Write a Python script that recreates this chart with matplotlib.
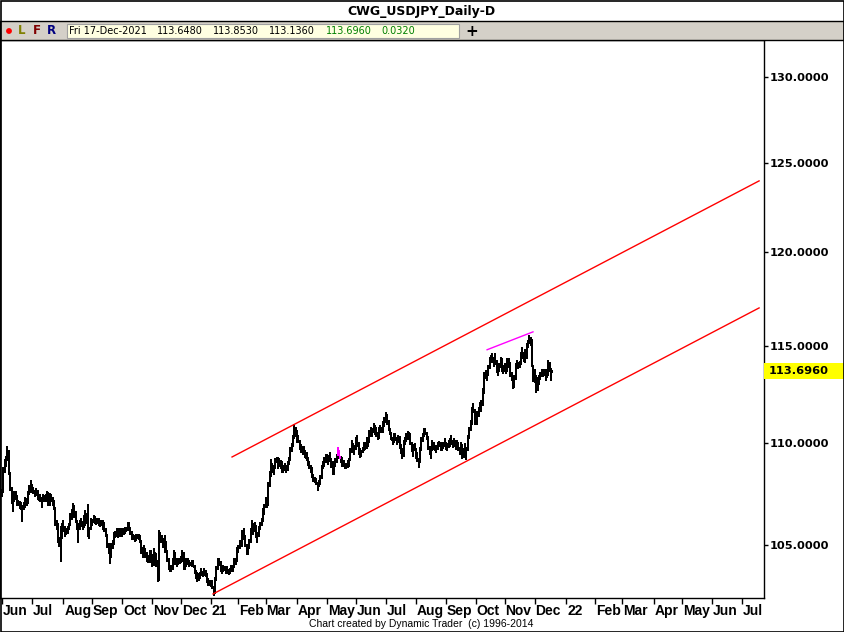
import numpy as np
import pandas as pd
import matplotlib
matplotlib.use('Agg')
import matplotlib.pyplot as plt
import matplotlib.transforms as mtransforms
from matplotlib.patches import Rectangle, Circle
from matplotlib.ticker import NullLocator

symbol = 'CWG_USDJPY_Daily-D'
first_day = '2020-06-01'
last_axis_day = '2022-07-29'
holidays = ['2020-12-25', '2021-01-01']

# daily bars, Jun 2020 - 17 Dec 2021 (open = previous close)
highs = [
    107.7, 108.8, 109.2, 109.35, 109.85, 109.5, 108.55, 107.8, 107.4, 107.6,
    107.6, 107.4, 107.2, 107.15, 107.1, 106.9, 107.1, 107.3, 107.25, 107.6,
    107.9, 108.15, 107.95, 107.8, 107.65, 107.75, 107.65, 107.45, 107.45, 107.3,
    107.45, 107.4, 107.45, 107.6, 107.5, 107.5, 107.45, 107.3, 107.2, 106.85,
    106.2, 106.05, 105.4, 105.9, 106.05, 106.2, 105.9, 105.8, 105.9, 106.05,
    106.55, 106.75, 107.05, 106.9, 106.6, 106.2, 106.05, 106.2, 106.3, 106.15,
    106.45,
    106.7, 106.5, 107.0, 105.85, 106.3, 106.25, 106.45, 106.4, 106.3, 106.3,
    106.3, 106.2, 106.2, 106.2, 106.1, 105.8, 105.5, 105.1, 104.9, 105.1,
    105.25, 105.6, 105.65, 105.8, 105.7, 105.8, 105.8, 105.8, 105.8, 105.85,
    105.85, 106.1, 106.1, 105.8, 105.6, 105.55, 105.5, 105.55, 105.55, 105.55,
    105.5, 105.1, 104.9, 105.0, 104.85, 104.65, 104.5, 104.75, 104.75, 104.5,
    104.85, 104.65, 104.6, 104.3, 105.7, 105.6, 105.5, 105.35,
    105.5, 105.2, 104.75, 104.4, 104.05, 104.05, 104.4, 104.75, 104.65, 104.4,
    104.4, 104.4, 104.45, 104.75, 104.6, 104.3, 104.4, 104.4, 104.3, 104.2,
    104.3, 104.3, 103.95, 103.8, 103.7, 103.65, 103.7, 103.9, 103.7, 103.9,
    103.8, 103.55, 103.45, 103.35, 103.25, 103.35, 103.05, 103.5, 104.0, 104.4,
    104.4, 104.05, 103.95, 104.05, 104.0, 103.9, 104.0, 103.8, 103.9, 104.05,
    104.05, 104.4, 104.4, 104.9, 105.0, 105.25,
    105.2, 105.7, 105.8, 105.5, 104.9, 105.0, 105.3, 105.8, 106.2, 106.0,
    106.1, 105.8, 105.6, 105.9, 106.1, 106.3, 106.8, 107.0, 107.3, 107.2,
    108.05, 108.6, 109.2, 109.0, 108.9, 109.25, 109.3, 109.3, 109.25, 109.15,
    109.1, 108.9, 109.0, 108.9, 109.1, 109.3, 109.8, 110.0, 110.4, 110.95,
    110.8, 110.6, 110.4, 110.1, 109.95, 109.85, 109.85, 109.55, 109.55, 109.3,
    109.1, 108.9, 108.8, 108.4, 108.3, 108.25, 108.05, 108.15, 108.4, 108.9,
    109.1,
    109.3, 109.45, 109.45, 109.4, 109.55, 109.25, 109.1, 109.0, 109.25, 109.45,
    109.8, 109.45, 109.3, 109.3, 109.15, 109.0,
    109.0, 109.15, 109.25, 109.75, 110.15, 110.0, 109.9, 110.3, 110.4, 110.0,
    109.75, 109.65, 109.8, 110.05, 110.05, 110.3, 110.25, 110.65, 110.8, 110.75,
    111.0, 110.9, 110.8, 110.55, 110.8, 110.9, 110.8, 111.1, 111.3, 111.55,
    111.45, 111.15, 110.75, 110.55, 110.3, 110.5, 110.5, 110.3, 110.4, 110.25,
    109.95, 109.75,
    110.15, 110.3, 110.5, 110.6, 110.55, 110.5, 110.05, 109.95, 110.0, 109.75,
    109.55, 109.25, 109.8, 110.3, 110.5, 110.75, 110.75, 110.55, 110.25, 109.8,
    109.8, 110.15, 110.05, 109.9, 109.9, 110.05,
    110.1, 110.05, 109.9, 110.05, 110.25, 110.05, 110.0, 110.15, 110.25, 110.4,
    110.15, 110.25, 110.05, 110.15, 110.0, 109.8, 110.05, 109.8, 109.75, 110.0,
    109.8, 110.4, 110.8, 111.15, 111.8, 112.05, 111.7, 111.55, 111.6, 111.8,
    112.1, 112.2, 112.8,
    113.6, 113.75, 113.6, 114.0, 114.4, 114.5, 114.6, 114.4, 114.6, 114.25,
    114.0, 114.1, 114.4, 114.35, 114.0, 114.1, 114.1, 114.35, 114.35, 114.1,
    113.6, 113.35, 113.45, 114.1, 114.25, 114.1, 114.2, 114.65, 114.9, 114.6,
    114.8, 115.15, 115.3, 115.55, 115.45, 115.2, 114.0, 113.8, 113.45, 113.35,
    113.45, 113.6, 113.8, 113.7, 113.8, 113.6, 113.6, 114.25, 114.0, 113.853,
]
lows = [
    107.3, 107.6, 108.5, 108.8, 109.1, 108.4, 107.6, 107.0, 106.6, 107.1,
    107.2, 106.9, 106.9, 106.75, 106.7, 106.1, 106.7, 106.9, 106.9, 107.0,
    107.4, 107.5, 107.5, 107.45, 107.3, 107.35, 107.2, 107.15, 107.1, 106.8,
    107.1, 107.1, 107.1, 107.2, 106.9, 107.0, 107.1, 106.9, 106.7, 105.9,
    105.7, 105.1, 104.9, 104.2, 105.3, 105.7, 105.4, 105.5, 105.55, 105.7,
    105.9, 106.2, 106.3, 106.3, 106.05, 105.7, 105.1, 105.7, 105.85, 105.7,
    105.9,
    105.9, 106.0, 105.4, 105.3, 105.7, 105.9, 106.05, 106.0, 105.95, 106.0,
    105.9, 105.85, 105.9, 105.7, 105.6, 105.4, 104.85, 104.55, 104.1, 104.4,
    104.85, 105.25, 105.35, 105.4, 105.35, 105.5, 105.4, 105.4, 105.5, 105.6,
    105.65, 105.65, 105.7, 105.5, 105.25, 105.25, 105.15, 105.25, 105.3, 105.25,
    105.1, 104.55, 104.4, 104.6, 104.4, 104.2, 104.15, 104.15, 104.3, 103.95,
    104.35, 104.2, 103.95, 103.25, 103.4, 105.1, 105.1, 104.85,
    104.6, 104.6, 104.2, 103.8, 103.7, 103.7, 103.8, 104.2, 104.05, 103.95,
    104.05, 104.1, 104.15, 104.3, 103.8, 103.8, 103.95, 104.05, 103.95, 104.05,
    103.95, 103.95, 103.6, 103.4, 103.25, 103.35, 103.45, 103.55, 103.5, 103.55,
    103.5, 103.2, 103.05, 103.05, 103.0, 102.9, 102.6, 102.7, 103.4, 103.95,
    104.0, 103.7, 103.6, 103.7, 103.75, 103.6, 103.65, 103.55, 103.6, 103.75,
    103.7, 104.0, 104.05, 104.3, 104.6, 104.8,
    104.9, 105.0, 105.25, 104.9, 104.5, 104.65, 104.85, 105.2, 105.8, 105.5,
    105.7, 105.35, 105.1, 105.5, 105.8, 105.9, 106.3, 106.45, 107.0, 106.8,
    107.0, 108.1, 108.5, 108.5, 108.4, 108.8, 109.0, 108.7, 108.9, 108.7,
    108.5, 108.5, 108.6, 108.5, 108.7, 109.0, 109.15, 109.55, 109.8, 110.3,
    110.3, 110.0, 110.0, 109.65, 109.5, 109.4, 109.5, 109.25, 109.1, 108.85,
    108.7, 108.5, 108.25, 108.05, 108.0, 107.9, 107.6, 107.8, 107.9, 108.3,
    108.7,
    108.8, 109.0, 109.0, 108.9, 109.05, 108.75, 108.4, 108.4, 108.8, 109.0,
    109.25, 109.25, 109.0, 108.8, 108.8, 108.7,
    108.7, 108.75, 108.8, 109.25, 109.65, 109.5, 109.4, 109.65, 109.8, 109.4,
    109.25, 109.3, 109.5, 109.65, 109.65, 109.8, 109.8, 110.05, 110.3, 110.3,
    110.5, 110.4, 110.3, 110.15, 110.3, 110.5, 110.5, 110.55, 110.8, 111.0,
    110.9, 110.6, 110.4, 110.15, 109.9, 110.05, 110.1, 109.9, 110.0, 109.7,
    109.45, 109.2,
    109.4, 109.9, 110.05, 110.15, 110.25, 109.9, 109.55, 109.3, 109.6, 109.2,
    109.05, 108.75, 109.1, 109.7, 110.05, 110.3, 110.4, 110.15, 109.65, 109.4,
    109.2, 109.7, 109.65, 109.6, 109.5, 109.65,
    109.8, 109.6, 109.6, 109.75, 109.8, 109.65, 109.6, 109.75, 109.8, 109.9,
    109.75, 109.8, 109.65, 109.75, 109.6, 109.4, 109.5, 109.2, 109.25, 109.3,
    109.15, 109.7, 110.25, 110.7, 111.0, 111.5, 110.9, 110.9, 111.0, 111.3,
    111.55, 111.55, 111.85,
    113.05, 113.25, 113.15, 113.5, 113.85, 114.1, 114.1, 113.9, 114.0, 113.55,
    113.4, 113.6, 113.85, 113.6, 113.5, 113.6, 113.5, 113.85, 113.85, 113.35,
    113.15, 112.75, 112.8, 113.6, 113.85, 113.8, 113.85, 114.1, 114.3, 114.15,
    114.1, 114.3, 114.85, 115.15, 115.0, 113.9, 113.1, 113.05, 112.55, 112.65,
    112.95, 113.25, 113.35, 113.35, 113.4, 113.15, 113.35, 113.8, 113.6, 113.136,
]
closes = [
    107.6, 108.7, 108.9, 109.2, 109.6, 108.5, 107.75, 107.2, 107.35, 107.4,
    107.3, 107.0, 107.05, 106.9, 106.8, 106.9, 106.9, 107.2, 107.1, 107.5,
    107.7, 107.9, 107.7, 107.6, 107.45, 107.6, 107.3, 107.3, 107.2, 107.2,
    107.3, 107.2, 107.3, 107.5, 107.0, 107.3, 107.2, 107.0, 106.8, 106.1,
    105.9, 105.2, 105.0, 105.8, 105.9, 105.7, 105.6, 105.6, 105.8, 106.0,
    106.4, 106.6, 106.9, 106.6, 106.1, 105.9, 105.8, 106.0, 106.1, 105.9,
    106.3,
    106.5, 106.1, 105.6, 105.8, 106.2, 106.2, 106.3, 106.2, 106.1, 106.2,
    106.0, 106.0, 106.1, 105.9, 105.7, 105.5, 105.0, 104.7, 104.6, 104.9,
    105.1, 105.5, 105.5, 105.6, 105.5, 105.7, 105.6, 105.7, 105.6, 105.7,
    105.8, 106.0, 105.8, 105.6, 105.4, 105.4, 105.3, 105.4, 105.4, 105.4,
    105.2, 104.7, 104.6, 104.8, 104.6, 104.4, 104.3, 104.6, 104.5, 104.1,
    104.6, 104.4, 104.1, 103.4, 105.4, 105.3, 105.2, 105.0,
    104.8, 104.7, 104.3, 103.9, 103.8, 103.9, 104.3, 104.5, 104.2, 104.2,
    104.2, 104.3, 104.3, 104.6, 103.9, 104.1, 104.2, 104.2, 104.1, 104.1,
    104.1, 104.0, 103.7, 103.5, 103.4, 103.5, 103.6, 103.7, 103.6, 103.7,
    103.6, 103.3, 103.2, 103.2, 103.1, 103.0, 102.8, 103.4, 103.9, 104.2,
    104.2, 103.8, 103.8, 103.9, 103.8, 103.7, 103.8, 103.7, 103.8, 103.9,
    104.0, 104.3, 104.3, 104.8, 104.9, 105.1,
    105.0, 105.5, 105.4, 105.0, 104.6, 104.9, 105.2, 105.7, 106.0, 105.7,
    105.9, 105.5, 105.5, 105.8, 106.0, 106.2, 106.7, 106.9, 107.1, 107.0,
    107.9, 108.4, 108.9, 108.6, 108.8, 109.1, 109.1, 108.9, 109.1, 108.9,
    108.7, 108.7, 108.8, 108.7, 109.0, 109.2, 109.7, 109.9, 110.3, 110.7,
    110.6, 110.2, 110.1, 109.7, 109.7, 109.6, 109.6, 109.3, 109.2, 109.0,
    108.8, 108.6, 108.4, 108.2, 108.1, 108.0, 107.9, 108.0, 108.3, 108.8,
    108.9,
    109.2, 109.3, 109.2, 109.3, 109.1, 108.9, 108.6, 108.9, 109.1, 109.3,
    109.6, 109.3, 109.2, 109.0, 108.9, 108.8,
    108.9, 109.0, 109.2, 109.6, 109.9, 109.7, 109.8, 110.1, 110.0, 109.5,
    109.4, 109.6, 109.7, 109.9, 109.8, 110.2, 110.1, 110.6, 110.5, 110.6,
    110.8, 110.7, 110.4, 110.3, 110.6, 110.7, 110.6, 111.0, 111.1, 111.4,
    111.0, 110.7, 110.5, 110.2, 110.1, 110.3, 110.2, 110.1, 110.3, 109.9,
    109.6, 109.4,
    110.0, 110.2, 110.4, 110.3, 110.4, 110.0, 109.7, 109.8, 109.7, 109.3,
    109.2, 109.1, 109.7, 110.2, 110.4, 110.6, 110.5, 110.3, 109.8, 109.6,
    109.7, 110.0, 109.8, 109.7, 109.8, 109.9,
    110.0, 109.7, 109.8, 109.9, 110.0, 109.8, 109.9, 110.0, 110.1, 110.0,
    109.9, 110.1, 109.8, 110.0, 109.7, 109.6, 109.9, 109.4, 109.6, 109.5,
    109.7, 110.3, 110.7, 111.0, 111.6, 111.6, 111.3, 111.0, 111.5, 111.7,
    111.9, 112.1, 112.6,
    113.4, 113.5, 113.5, 113.9, 114.2, 114.3, 114.2, 114.3, 114.1, 113.7,
    113.8, 114.0, 114.2, 113.8, 113.7, 114.0, 113.7, 114.2, 114.1, 113.5,
    113.3, 112.9, 113.3, 114.0, 114.1, 114.0, 114.1, 114.5, 114.6, 114.3,
    114.7, 115.0, 115.2, 115.4, 115.3, 113.9, 113.4, 113.2, 112.8, 113.1,
    113.3, 113.5, 113.6, 113.5, 113.7, 113.4, 113.5, 114.1, 113.648, 113.696,
]

# drawn lines: (bar index, price) end points
upper_x, upper_y = [168.4, 554.2], [109.30, 123.97]
lower_x, lower_y = [154.5, 554.2], [102.68, 116.99]
top_x, top_y = [355.1, 388.7], [114.78, 115.72]
marked_bars = [246, 247]

price_ticks = [105, 110, 115, 120, 125, 130]
last_close = 113.696
header_vals = ['Fri 17-Dec-2021', '113.6480', '113.8530', '113.1360', '113.6960', '0.0320']
header_x = [69, 157, 213, 269, 326, 381]
header_col = ['black', 'black', 'black', 'black', '#008000', '#008000']

n = len(closes)
if not (len(highs) == n == len(lows)):
    raise ValueError('bar lists differ: %d %d %d' % (len(highs), len(lows), n))

dates = pd.bdate_range(first_day, last_axis_day)
dates = dates[~dates.isin(pd.to_datetime(holidays))]
month_pos = [i for i in range(len(dates)) if i == 0 or dates[i].month != dates[i - 1].month]
month_lab = [d.strftime('%y') if d.month == 1 else d.strftime('%b') for d in dates[month_pos]]

W, H = 844, 632
fig = plt.figure(figsize=(W / 100, H / 100), dpi=100)
fig.patch.set_facecolor('white')


def box(x0, y0, x1, y1):
    # pixel box (y down) -> figure fraction rect
    return [x0 / W, 1 - y1 / H, (x1 - x0) / W, (y1 - y0) / H]


ax = fig.add_axes(box(0, 40, 764, 598))
ax.set_yscale('log')
ax.set_ylim(102.49, 132.2)
ax.set_xlim(-1.46, 557.8)

x = np.arange(n)
closes_a = np.array(closes)
opens = np.r_[closes_a[0], closes_a[:-1]]
lo = np.minimum(lows, opens)
hi = np.maximum(highs, opens)
cols = ['#FF00FF' if i in marked_bars else 'black' for i in range(n)]
ax.vlines(x, lo, hi, colors=cols, lw=1.2, antialiased=False)
ax.hlines(opens, x - 0.7, x, colors=cols, lw=0.8, antialiased=False)
ax.hlines(closes_a, x, x + 0.7, colors=cols, lw=0.8, antialiased=False)

ax.plot(upper_x, upper_y, color='#FF0000', lw=1.0)
ax.plot(lower_x, lower_y, color='#FF0000', lw=1.0)
ax.plot(top_x, top_y, color='#FF00FF', lw=1.0)

ax.yaxis.tick_right()
ax.yaxis.set_minor_locator(NullLocator())
ax.set_yticks(price_ticks)
ax.set_yticklabels(['%.4f' % v for v in price_ticks])
ax.tick_params(axis='y', direction='out', length=3, width=1, pad=1,
               labelsize=8.2)
for t in ax.get_yticklabels():
    t.set_fontweight('bold')
ax.set_xticks(month_pos)
ax.set_xticklabels([])
ax.xaxis.set_minor_locator(NullLocator())
ax.tick_params(axis='x', direction='out', length=4, width=1)
for s in ax.spines.values():
    s.set_linewidth(1.0)
    s.set_color('black')

# last price marker on the scale
blend = mtransforms.blended_transform_factory(ax.transAxes, ax.transData)
ax.add_patch(Rectangle((1.0, last_close * np.exp(-8 / 2191)), 80 / 764,
                       last_close * (np.exp(8 / 2191) - np.exp(-8 / 2191)),
                       transform=blend, facecolor='#FFFF00', edgecolor='none',
                       clip_on=False, zorder=3))
ax.text(1.0 + 5 / 764, last_close, '%.4f' % last_close, transform=blend,
        ha='left', va='center', fontsize=8.2, fontweight='bold', zorder=4)

# month labels, clipped at the price scale
lab = fig.add_axes(box(0, 599, 764, 620))
lab.set_xlim(ax.get_xlim())
lab.set_ylim(0, 1)
lab.axis('off')
for p, m in zip(month_pos, month_lab):
    lab.text(p + 0.6, 0.45, m, ha='left', va='center', fontsize=10,
             fontweight='bold', family='Liberation Sans', clip_on=True)

# header, title and footer
ov = fig.add_axes([0, 0, 1, 1], zorder=5)
ov.set_xlim(0, W)
ov.set_ylim(H, 0)
ov.axis('off')
ov.patch.set_alpha(0)
ov.add_patch(Rectangle((0, 21), W, 19, facecolor='#D4D0C8', edgecolor='black', lw=1.0))
ov.add_patch(Rectangle((0.5, 0.5), W - 1, H - 1, facecolor='none', edgecolor='black', lw=1.2))
ov.text(421, 11, symbol, ha='center', va='center', fontsize=9, fontweight='bold')
ov.add_patch(Circle((9, 31), 2.2, color='#FF0000'))
for lx, letter, c in [(18, 'L', '#808000'), (33, 'F', '#800000'), (47, 'R', '#000080')]:
    ov.text(lx, 31, letter, ha='left', va='center', fontsize=8.5, fontweight='bold', color=c)
ov.add_patch(Rectangle((67, 24), 392, 13.5, facecolor='#FFFFE1', edgecolor='#A0A0A0', lw=0.8))
for hx, hv, hc in zip(header_x, header_vals, header_col):
    ov.text(hx, 31, hv, ha='left', va='center', fontsize=7, color=hc)
ov.text(472, 31, '+', ha='center', va='center', fontsize=11, fontweight='bold')
ov.text(421, 624, 'Chart created by Dynamic Trader  (c) 1996-2014', ha='center',
        va='center', fontsize=7.5, family='Liberation Sans')

fig.savefig('out.png', dpi=100, facecolor='white')
